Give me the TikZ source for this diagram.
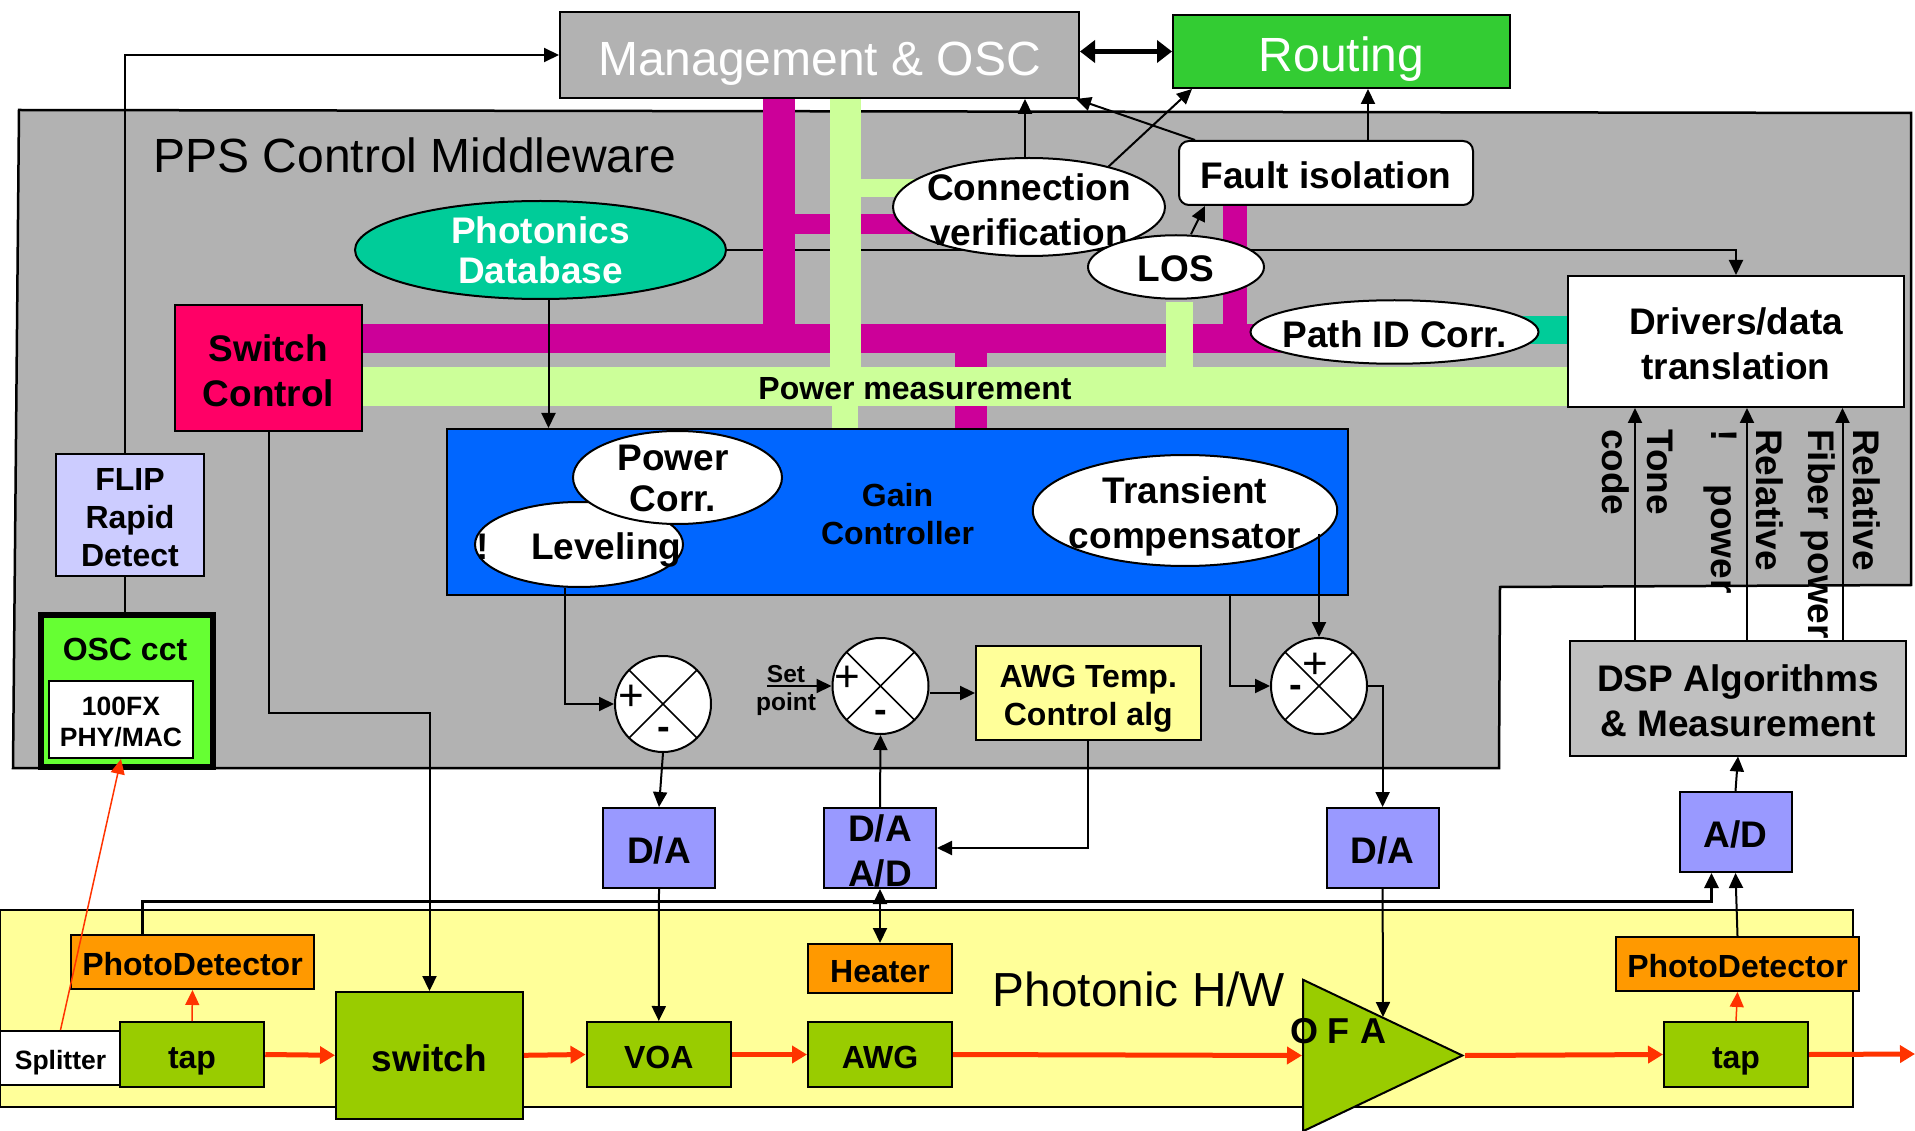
\documentclass[tikz,border=0pt]{standalone}
\usepackage{fontspec}
\setmainfont{Liberation Sans}
\usepackage{xcolor}
\usetikzlibrary{arrows.meta,positioning,calc,shapes.geometric,backgrounds}
\definecolor{panelgray}{HTML}{B2B2B2}
\definecolor{dspgray}{HTML}{C0C0C0}
\definecolor{routegreen}{HTML}{33CC33}
\definecolor{oscgreen}{HTML}{66FF33}
\definecolor{busgreen}{HTML}{CCFF99}
\definecolor{busmagenta}{HTML}{CC0099}
\definecolor{teal}{HTML}{00CC99}
\definecolor{gainblue}{HTML}{0066FF}
\definecolor{convblue}{HTML}{9999FF}
\definecolor{flipblue}{HTML}{CCCCFF}
\definecolor{olive}{HTML}{99CC00}
\definecolor{paleyellow}{HTML}{FFFF99}
\definecolor{detorange}{HTML}{FF9900}
\definecolor{beamred}{HTML}{FF3300}
\definecolor{switchred}{HTML}{FF0066}

\begin{document}
\begin{tikzpicture}[
    x=1pt, y=-1pt,
    titletext/.style={font=\fontsize{48}{56}\selectfont},
    bigtext/.style={font=\fontsize{37}{45}\selectfont\bfseries},
    midtext/.style={font=\fontsize{32}{38}\selectfont\bfseries},
    smalltext/.style={font=\fontsize{26.5}{31}\selectfont\bfseries},
    box/.style={rectangle, draw=black, line width=2pt, inner sep=0pt, align=center, text depth=0pt,
      execute at begin node={\rule{0pt}{0.85em}}},
    linesbox/.style={rectangle, draw=black, line width=2pt, inner sep=0pt, align=center, text depth=0pt, text height=#1},
    oval/.style={ellipse, draw=black, line width=2pt, fill=white, inner sep=0pt},
    ovaltext/.style={bigtext, align=center, inner sep=0pt},
    sidetext/.style={bigtext, align=left, inner sep=0pt, rotate=-90, anchor=north west},
    summer/.style={circle, draw=black, line width=2pt, fill=white, inner sep=0pt, minimum size=96pt,
      path picture={\draw[line width=1.5pt] (path picture bounding box.north west) -- (path picture bounding box.south east);
        \draw[line width=1.5pt] (path picture bounding box.north east) -- (path picture bounding box.south west);}},
    plussign/.style={font=\fontsize{44}{44}\selectfont, inner sep=0pt},
    minussign/.style={font=\fontsize{38}{38}\selectfont\bfseries, inner sep=0pt},
    arrow/.style={-{Triangle[length=15pt,width=14pt]}, line width=2pt},
    plainline/.style={line width=2pt},
    beam/.style={-{Triangle[length=15pt,width=17pt]}, line width=5pt, draw=beamred},
    thinbeam/.style={-{Triangle[length=15pt,width=14pt]}, line width=1.5pt, draw=beamred},
    magbus/.style={draw=busmagenta},
    greenbus/.style={draw=busgreen}
  ]
    \useasboundingbox (0,0) rectangle (1915,1131);

    \node[box, fill=panelgray, text=white, titletext, minimum width=519pt, minimum height=86pt] (mgmt) at (819.5,55) {Management \& OSC};
    \node[box, fill=routegreen, text=white, titletext, minimum width=337pt, minimum height=73pt] (routing) at (1341.5,51.5) {Routing};
    \node[titletext, inner sep=0pt] (ppstitle) at (415,155) {PPS Control Middleware};

    \node[linesbox=77pt, fill=switchred, bigtext, minimum width=187pt, minimum height=126pt] (switchctl) at (268.5,368) {Switch\\Control};
    \node[linesbox=64.5pt, fill=gainblue, midtext, minimum width=901pt, minimum height=166pt] (gain) at (897.5,512) {Gain\\Controller};
    \node[linesbox=102pt, fill=flipblue, midtext, minimum width=148pt, minimum height=122pt] (flip) at (130,515) {FLIP\\Rapid\\Detect};
    \node[box, fill=oscgreen, line width=6pt, minimum width=172pt, minimum height=152pt] (osc) at (127,691) {};
    \node[midtext, inner sep=0pt] (osctext) at (125,649) {OSC cct};
    \node[linesbox=53pt, fill=white, smalltext, minimum width=144pt, minimum height=77pt] (phymac) at (121,719.5) {100FX\\PHY/MAC};

    \node[oval, fill=teal, minimum width=371pt, minimum height=98pt] (photonics) at (540.5,250) {};
    \node[ovaltext, text=white] (photonicstext) at (540.5,250) {Photonics\\[-5pt]Database};
    \node[oval, minimum width=208pt, minimum height=85pt] (leveling) at (579,544.5) {};
    \node[ovaltext] (levelingtext) at (579,550.5) {!\hspace{42pt}Leveling};
    \node[oval, minimum width=209pt, minimum height=93pt] (powercorr) at (677.5,477.5) {};
    \node[ovaltext] (powercorrtext) at (673,478) {Power\\[-4pt]Corr.};
    \node[oval, minimum width=304.5pt, minimum height=111pt] (transient) at (1185,510.5) {};
    \node[ovaltext] (transienttext) at (1185,516) {Transient\\compensator};
    \node[oval, minimum width=272pt, minimum height=98pt] (conn) at (1029,207) {};
    \node[ovaltext] (conntext) at (1029,210) {Connection\\verification};
    \node[oval, minimum width=176pt, minimum height=63.5pt] (los) at (1176,267) {};
    \node[ovaltext] (lostext) at (1176,269) {LOS};
    \node[oval, minimum width=288pt, minimum height=63.5pt] (pathid) at (1394.5,332) {};
    \node[ovaltext] (pathidtext) at (1394.5,334) {Path ID Corr.};
    \node[box, fill=white, bigtext, rounded corners=10pt, minimum width=294pt, minimum height=64pt] (fault) at (1326,173) {Fault isolation};
    \node[linesbox=77pt, fill=white, bigtext, minimum width=336pt, minimum height=131pt] (drivers) at (1736,341.5) {Drivers/data\\translation};

    \node[font=\fontsize{32}{38}\selectfont\bfseries, inner sep=0pt] (powertext) at (915,389) {Power measurement};

    \foreach \n/\x/\y in {suma/663/704, sumb/880.5/686, sumc/1319/686} {
      \node[summer] (\n) at (\x,\y) {};
    }
    \foreach \n/\x/\y in {plusa/631/698, plusb/847/679, plusc/1315/666} {
      \node[plussign] (\n) at (\x,\y) {+};
    }
    \foreach \n/\x/\y in {minusa/664/733, minusb/881/716, minusc/1296/691} {
      \node[minussign] (\n) at (\x,\y) {-};
    }
    \node[font=\fontsize{24.5}{29}\selectfont\bfseries, inner sep=0pt] (settext) at (786,674) {Set};
    \node[font=\fontsize{24.5}{29}\selectfont\bfseries, inner sep=0pt] (pointtext) at (786,704) {point};
    \coordinate (setfrom) at (767,686);
    \node[linesbox=65.5pt, fill=paleyellow, midtext, minimum width=224.5pt, minimum height=94pt] (awgtemp) at (1088.3,693) {AWG Temp.\\Control alg};

    \node[sidetext] (tonetext) at (1673,429) {Tone\\code};
    \node[sidetext] (relativea) at (1783,429) {Relative\\!\hspace{43pt}power};
    \node[sidetext] (relativeb) at (1880,429) {Relative\\Fiber power};

    \node[linesbox=77pt, fill=dspgray, bigtext, minimum width=336pt, minimum height=115pt] (dsp) at (1738,698) {DSP Algorithms\\\& Measurement};
    \node[box, fill=convblue, bigtext, minimum width=112pt, minimum height=80pt] (adc) at (1735.5,832) {A/D};
    \foreach \n/\t/\x in {daa/D\slash A/659, dac/D\slash A/1382.6} {
      \node[box, fill=convblue, bigtext, minimum width=112pt, minimum height=80pt] (\n) at (\x,848) {\t};
    }
    \node[linesbox=77pt, fill=convblue, bigtext, minimum width=112pt, minimum height=80pt] (dab) at (880,848) {D/A\\A/D};

    \node[box, fill=detorange, midtext, minimum width=144pt, minimum height=49pt] (heater) at (880,968.5) {Heater};
    \node[box, fill=detorange, midtext, minimum width=243pt, minimum height=54pt] (pdl) at (192.5,962) {PhotoDetector};
    \node[box, fill=detorange, midtext, minimum width=243pt, minimum height=54pt] (pdr) at (1737.5,964) {PhotoDetector};
    \node[box, fill=white, smalltext, minimum width=121pt, minimum height=54pt] (splitter) at (60.5,1058) {Splitter};
    \foreach \n/\t/\x/\w in {tapl/tap/192/144.5, voa/VOA/658.8/144.5, awg/AWG/880/144, tapr/tap/1736/144} {
      \node[box, fill=olive, midtext, minimum width=\w pt, minimum height=65pt] (\n) at (\x,1054.5) {\t};
    }
    \node[box, fill=olive, bigtext, minimum width=187pt, minimum height=126.5pt] (switch) at (429.5,1055.3) {switch};
    \node[font=\fontsize{47.8}{54}\selectfont, inner sep=0pt] (hwtitle) at (1139,989) {Photonic H/W};
    \node[isosceles triangle, isosceles triangle stretches, draw=black, line width=2pt, fill=olive, inner sep=0pt,
      minimum width=151.5pt, minimum height=159.4pt, anchor=apex] (ofa) at (1465,1055.5) {};
    \node[font=\fontsize{36}{40}\selectfont\bfseries, inner sep=0pt] (ofatext) at (1338,1031) {O F A};
    \coordinate (ofatop) at (1383,1017);
    \coordinate (fiberout) at (1915,1054);

    \begin{scope}[on background layer]
      \draw[black, line width=2.5pt, fill=panelgray] (19,110) -- (1911,113) -- (1911,585) -- (1500,587) -- (1499,768) -- (13,768) -- cycle;
      \draw[black, line width=2pt, fill=paleyellow] (0,910) rectangle (1853,1107.4);
      \draw[arrow] (photonics.east) -| (drivers.north);
      \coordinate (rail) at (0,339);
      \coordinate (pwr) at (0,386.5);
      \coordinate (magtee) at (779,224);
      \coordinate (magstub) at (971,339);
      \coordinate (magdrop) at (1235,339);
      \coordinate (greentee) at (845.5,188);
      \coordinate (greendrop) at (845,386.5);
      \coordinate (greenlos) at (1179.5,302);
      \coordinate (tealbar) at (1500,330);
      \draw[magbus, line width=29pt] (rail -| switchctl.east) -- (rail -| pathid.center);
      \draw[magbus, line width=32pt] (magtee |- mgmt.south) -- (magtee |- rail);
      \draw[magbus, line width=20pt] (magtee) -- (magtee -| conn.center);
      \draw[magbus, line width=32pt] (magstub) -- (magstub |- gain.north);
      \draw[magbus, line width=24pt] (magdrop |- fault.south) -- (magdrop);
      \draw[greenbus, line width=39pt] (pwr -| switchctl.east) -- (pwr -| drivers.west);
      \draw[greenbus, line width=31pt] (greentee |- mgmt.south) -- (greentee |- pwr);
      \draw[greenbus, line width=26pt] (greendrop) -- (greendrop |- gain.north);
      \draw[greenbus, line width=18pt] (greentee) -- (greentee -| conn.center);
      \draw[greenbus, line width=27pt] (greenlos) -- (greenlos |- pwr);
      \draw[draw=teal, line width=28pt] (tealbar) -- (tealbar -| drivers.west);
    \end{scope}

    \draw[arrow] ([xshift=-5pt]flip.north) |- (mgmt.west);
    \draw[plainline] ([xshift=-5pt]flip.south) -- ([xshift=-2pt]osc.north);
    \draw[arrow, {Triangle[length=15pt,width=22pt]}-{Triangle[length=15pt,width=22pt]}, line width=5pt] (mgmt.east |- routing.west) -- (routing.west);
    \draw[arrow] ([xshift=-4pt]conn.north) -- ([xshift=-4pt]conn.north |- mgmt.south);
    \draw[arrow] (conn.27) -- ([xshift=20pt]routing.south west);
    \draw[arrow] ([xshift=17pt]fault.north west) -- ([xshift=-4pt]mgmt.south east);
    \draw[arrow] ([xshift=42pt]fault.north) -- ([xshift=42pt]fault.north |- routing.south);
    \draw[arrow] ([xshift=15pt]los.north) -- ([xshift=27pt]fault.south west);
    \draw[arrow] ([xshift=8pt]photonics.south) -- ([xshift=8pt]photonics.south |- gain.north);
    \draw[arrow] (switchctl.south) -- ++(0,281) -| (switch.north);
    \draw[arrow] ([xshift=-14pt]leveling.south) |- (suma.west);
    \draw[arrow] (setfrom) -- (sumb.west);
    \draw[arrow] (sumb.east |- awgtemp.west) -- (awgtemp.west);
    \draw[arrow] (awgtemp.south) |- (dab.east);
    \draw[arrow] ([xshift=332pt]gain.south) |- (sumc.west);
    \draw[arrow] ([yshift=-23pt]transient.center -| sumc.north) -- (sumc.north);
    \draw[arrow] (sumc.east) -| (dac.north);
    \draw[arrow] (suma.south) -- (daa.north);
    \draw[arrow] (dab.north) -- (sumb.south);
    \draw[arrow, {Triangle[length=15pt,width=14pt]}-{Triangle[length=15pt,width=14pt]}] (dab.south) -- (heater.north);
    \draw[arrow] (daa.south) -- (voa.north);
    \draw[arrow] (dac.south) -- (ofatop);
    \draw[arrow, line width=3pt] ([xshift=-50pt]pdl.north) -- ++(0,-33) -| ([xshift=-24pt]adc.south);
    \draw[arrow] (pdr.north) -- (adc.south);
    \draw[arrow] (adc.north) -- (dsp.south);
    \foreach \dx in {-103,9,104.5} {
      \draw[arrow] ([xshift=\dx pt]dsp.north) -- ([xshift=\dx pt]dsp.north |- drivers.south);
    }
    \draw[thinbeam] (tapl.north) -- (pdl.south);
    \draw[thinbeam] (tapr.north) -- (pdr.south);
    \draw[thinbeam] (splitter.north) -- (phymac.south);
    \draw[beam] (tapl.east) -- (switch.west);
    \draw[beam] (switch.east) -- (voa.west);
    \draw[beam] (voa.east) -- (awg.west);
    \draw[beam] (awg.east) -- (ofa.lower side);
    \draw[beam] (ofa.apex) -- (tapr.west);
    \draw[beam] (tapr.east) -- (fiberout);
  \end{tikzpicture}
\end{document}
